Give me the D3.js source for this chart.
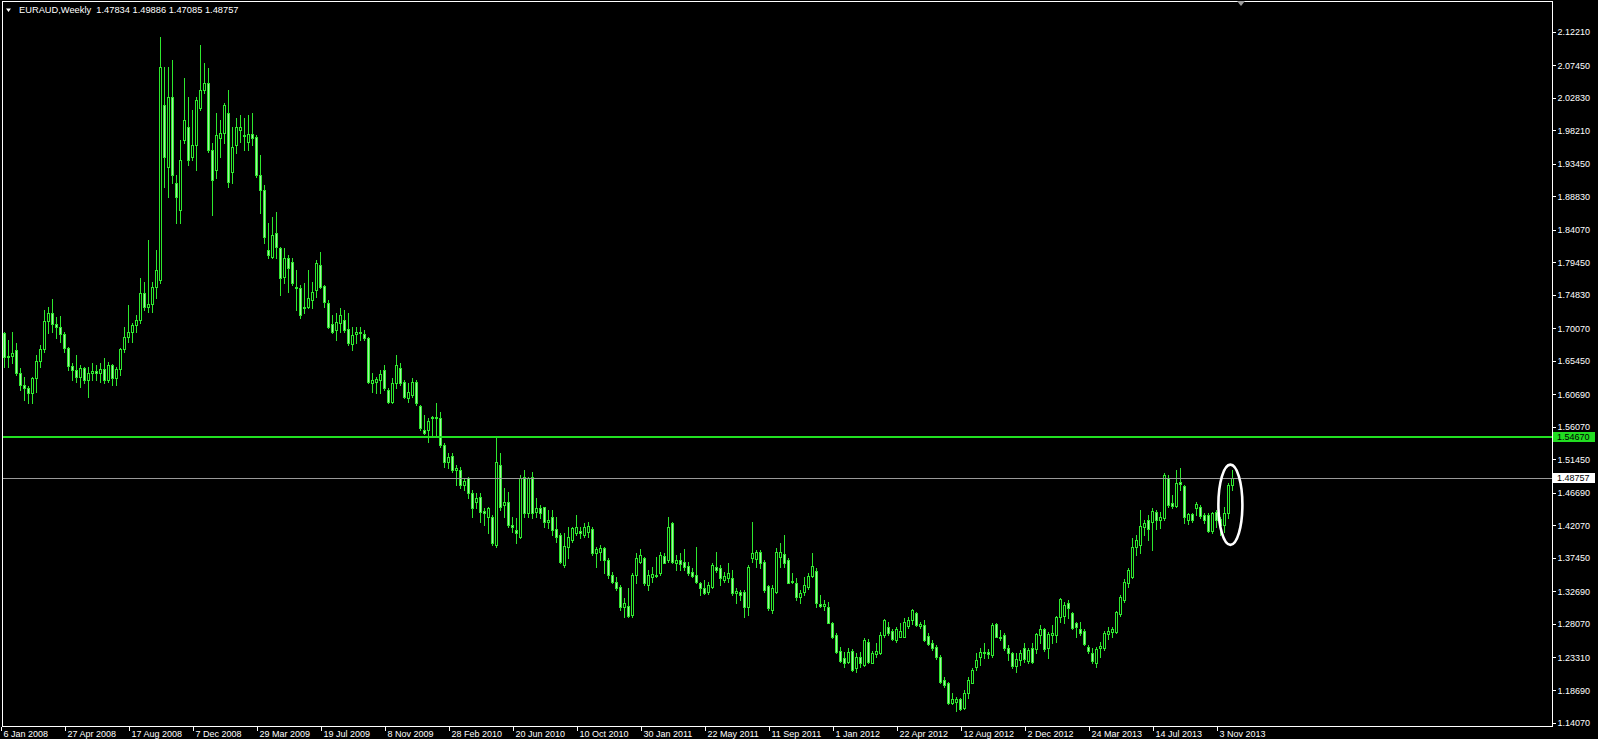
<!DOCTYPE html>
<html><head><meta charset="utf-8">
<script src="https://cdn.jsdelivr.net/npm/d3@7"></script>
<style>
html,body{margin:0;padding:0;background:#000;overflow:hidden}
svg{display:block}
</style></head><body>
<svg id="c" width="1598" height="739"></svg>
<script>
// ---------- data ----------
const symbolTitle = "EURAUD,Weekly";
const lastBarOHLC = [1.47834, 1.49886, 1.47085, 1.48757];
const levelLine = 1.54670;   // horizontal green level
const bidLine = 1.48757;     // current price line
const yTickValues = [2.12210,2.07450,2.02830,1.98210,1.93450,1.88830,1.84070,1.79450,1.74830,1.70070,1.65450,1.60690,1.56070,1.51450,1.46690,1.42070,1.37450,1.32690,1.28070,1.23310,1.18690,1.14070];
const xTickLabels = ["6 Jan 2008","27 Apr 2008","17 Aug 2008","7 Dec 2008","29 Mar 2009","19 Jul 2009","8 Nov 2009","28 Feb 2010","20 Jun 2010","10 Oct 2010","30 Jan 2011","22 May 2011","11 Sep 2011","1 Jan 2012","22 Apr 2012","12 Aug 2012","2 Dec 2012","24 Mar 2013","14 Jul 2013","3 Nov 2013"];
const xTickWeeks = [0,16,32,48,64,80,96,112,128,144,160,176,192,208,224,240,256,272,288,304];
const firstBarWeek = 1; // first visible bar = week of 13 Jan 2008

const openP = [
1.6934,1.6603,1.6612,1.6697,1.6366,1.6200,1.6162,1.6082,1.6295,1.6541,
1.6707,1.7109,1.7218,1.7062,1.7029,1.6925,1.6721,1.6470,1.6413,1.6319,
1.6437,1.6271,1.6375,1.6404,1.6366,1.6423,1.6271,1.6484,1.6295,1.6423,
1.6707,1.6877,1.6958,1.7052,1.7123,1.7502,1.7313,1.7346,1.7597,1.7691,
2.0177,1.9301,2.0295,1.9074,1.8686,1.9680,1.9869,1.9443,1.9609,2.0130,
2.0390,2.0485,1.9538,1.9254,1.9703,1.9774,2.0058,1.9230,1.9609,1.9822,
1.9751,1.9656,1.9765,1.9723,1.9183,1.8970,1.8118,1.8023,1.8355,1.8142,
1.7739,1.8000,1.7952,1.7597,1.7573,1.7289,1.7313,1.7408,1.7550,1.7905,
1.7607,1.7360,1.7067,1.6982,1.7076,1.7124,1.6991,1.6783,1.6920,1.6949,
1.6920,1.6863,1.6224,1.6248,1.6272,1.6414,1.6130,1.5964,1.6224,1.6437,
1.6248,1.6011,1.6059,1.6248,1.5902,1.5562,1.5562,1.5727,1.5751,1.5727,
1.5349,1.5112,1.5192,1.4993,1.4993,1.4780,1.4875,1.4662,1.4544,1.4615,
1.4416,1.4331,1.4331,1.3928,1.5064,1.4496,1.4544,1.4213,1.4142,1.4047,
1.4899,1.4388,1.4899,1.4402,1.4450,1.4464,1.4260,1.4331,1.4151,1.4071,
1.3645,1.3905,1.4000,1.4095,1.4132,1.4071,1.4118,1.4151,1.3820,1.3834,
1.3882,1.3716,1.3503,1.3408,1.3337,1.3053,1.3063,1.2935,1.3503,1.3692,
1.3739,1.3361,1.3470,1.3489,1.3526,1.3773,1.3716,1.4246,1.3678,1.3716,
1.3683,1.3631,1.3550,1.3503,1.3384,1.3313,1.3266,1.3337,1.3621,1.3597,
1.3432,1.3455,1.3455,1.3252,1.3266,1.3266,1.3053,1.3739,1.3724,1.3833,
1.3691,1.3346,1.3005,1.3265,1.3753,1.3800,1.3715,1.3407,1.3383,1.3185,
1.3265,1.3327,1.3488,1.3563,1.3085,1.3062,1.3052,1.2825,1.2650,1.2427,
1.2318,1.2271,1.2427,1.2176,1.2342,1.2224,1.2555,1.2257,1.2380,1.2399,
1.2650,1.2768,1.2711,1.2579,1.2626,1.2626,1.2778,1.2863,1.2967,1.2778,
1.2792,1.2636,1.2541,1.2484,1.2342,1.2011,1.1963,1.1679,1.1703,1.1736,
1.1608,1.1821,1.1973,1.2191,1.2333,1.2389,1.2413,1.2366,1.2806,1.2626,
1.2650,1.2460,1.2390,1.2210,1.2296,1.2461,1.2286,1.2461,1.2447,1.2651,
1.2731,1.2461,1.2651,1.2651,1.2911,1.2920,1.3110,1.2958,1.2826,1.2731,
1.2712,1.2475,1.2390,1.2248,1.2461,1.2461,1.2665,1.2698,1.2698,1.2949,
1.3148,1.3394,1.3479,1.3905,1.3929,1.4180,1.4284,1.4260,1.4402,1.4284,
1.4308,1.4875,1.4521,1.4483,1.4828,1.4766,1.4284,1.4369,1.4450,1.4473,
1.4355,1.4355,1.4132,1.4402,1.4293,1.4213,1.4379,1.47834];

const highP = [
1.6958,1.6839,1.6958,1.6792,1.6437,1.6319,1.6186,1.6319,1.6626,1.6768,
1.7265,1.7313,1.7417,1.7171,1.7180,1.6958,1.6740,1.6508,1.6626,1.6484,
1.6461,1.6461,1.6508,1.6484,1.6508,1.6579,1.6532,1.6500,1.6461,1.6721,
1.7029,1.7336,1.7076,1.7194,1.7715,1.7668,1.8260,1.7668,1.8118,2.1147,
2.0721,2.0721,2.0816,1.9183,1.9680,2.0556,2.0295,2.0106,2.0295,2.1029,
2.0769,2.0698,1.9632,2.0058,1.9964,2.0201,2.0390,1.9869,1.9987,2.0035,
1.9987,2.0035,2.0064,1.9751,1.9467,1.9041,1.8497,1.8591,1.8662,1.8165,
1.8142,1.8047,1.8000,1.7834,1.7621,1.7644,1.7834,1.7668,1.7976,1.8094,
1.7621,1.7408,1.7195,1.7218,1.7289,1.7266,1.7218,1.7029,1.7029,1.7029,
1.6982,1.6887,1.6366,1.6319,1.6414,1.6485,1.6153,1.6295,1.6627,1.6508,
1.6272,1.6224,1.6295,1.6272,1.5917,1.5775,1.5727,1.5760,1.5940,1.5822,
1.5372,1.5230,1.5230,1.5064,1.5041,1.4875,1.4899,1.4709,1.4662,1.4662,
1.4449,1.4473,1.4354,1.5458,1.5230,1.4733,1.4686,1.4331,1.4308,1.4923,
1.4994,1.4899,1.4970,1.4592,1.4497,1.4473,1.4426,1.4426,1.4331,1.4095,
1.4095,1.4189,1.4189,1.4355,1.4189,1.4237,1.4260,1.4189,1.3905,1.3929,
1.3905,1.3739,1.3550,1.3479,1.3361,1.3171,1.3313,1.3526,1.3810,1.3867,
1.3763,1.3574,1.3621,1.3763,1.3834,1.3810,1.4331,1.4260,1.3787,1.3810,
1.3867,1.3692,1.3597,1.3905,1.3408,1.3432,1.3408,1.3668,1.3834,1.3645,
1.3550,1.3668,1.3574,1.3313,1.3290,1.3290,1.3645,1.4260,1.3857,1.3857,
1.3715,1.3360,1.3360,1.3881,1.3961,1.4070,1.3739,1.3526,1.3455,1.3289,
1.3478,1.3526,1.3810,1.3597,1.3218,1.3147,1.3123,1.2839,1.2673,1.2484,
1.2413,1.2460,1.2446,1.2389,1.2413,1.2602,1.2588,1.2427,1.2531,1.2697,
1.2872,1.2839,1.2730,1.2768,1.2815,1.2886,1.2910,1.3014,1.2981,1.2839,
1.2863,1.2673,1.2579,1.2508,1.2366,1.2049,1.1987,1.1831,1.1774,1.1750,
1.1869,1.2058,1.2176,1.2389,1.2460,1.2531,1.2446,1.2815,1.2815,1.2721,
1.2673,1.2509,1.2414,1.2390,1.2438,1.2532,1.2461,1.2532,1.2684,1.2793,
1.2745,1.2698,1.2793,1.2920,1.3171,1.3124,1.3148,1.2982,1.2840,1.2840,
1.2731,1.2509,1.2461,1.2485,1.2556,1.2712,1.2769,1.2760,1.2996,1.3218,
1.3441,1.3597,1.4023,1.4071,1.4425,1.4284,1.4355,1.4450,1.4426,1.4402,
1.4947,1.4923,1.4639,1.4994,1.5018,1.4781,1.4388,1.4388,1.4544,1.4497,
1.4388,1.4379,1.4402,1.4426,1.4331,1.4473,1.4804,1.49886];

const lowP = [
1.6461,1.6461,1.6508,1.6342,1.6129,1.5987,1.5940,1.5940,1.6106,1.6461,
1.6674,1.6934,1.6958,1.6863,1.6816,1.6674,1.6413,1.6271,1.6248,1.6177,
1.6224,1.6035,1.6271,1.6271,1.6248,1.6224,1.6248,1.6200,1.6200,1.6342,
1.6674,1.6816,1.6816,1.6958,1.7076,1.7265,1.7242,1.7242,1.7431,1.7644,
1.9017,1.8875,1.9064,1.8496,1.8496,1.9632,1.9325,1.9396,1.9254,2.0106,
2.0343,1.9514,1.8615,1.9135,1.9443,1.9632,1.9017,1.9064,1.9490,1.9656,
1.9538,1.9538,1.9609,1.9155,1.8643,1.8218,1.8000,1.8000,1.8000,1.7479,
1.7644,1.7526,1.7621,1.7266,1.7147,1.7218,1.7289,1.7289,1.7455,1.7573,
1.7313,1.7005,1.6934,1.6840,1.6958,1.6958,1.6769,1.6698,1.6792,1.6840,
1.6840,1.6224,1.6106,1.6082,1.6082,1.6130,1.5940,1.5940,1.6153,1.6201,
1.6011,1.5964,1.6035,1.5917,1.5562,1.5500,1.5396,1.5491,1.5467,1.5325,
1.5041,1.5017,1.4970,1.4780,1.4733,1.4709,1.4591,1.4331,1.4449,1.4260,
1.4212,1.4094,1.3928,1.3905,1.4425,1.4331,1.4189,1.4118,1.3953,1.4024,
1.4331,1.4331,1.4308,1.4331,1.4308,1.4189,1.4166,1.4071,1.3976,1.3668,
1.3621,1.3739,1.3976,1.4071,1.4024,1.4047,1.4047,1.3787,1.3621,1.3716,
1.3526,1.3455,1.3384,1.3290,1.3006,1.2911,1.2911,1.2911,1.3384,1.3668,
1.3361,1.3290,1.3408,1.3479,1.3503,1.3668,1.3692,1.3668,1.3574,1.3574,
1.3574,1.3503,1.3479,1.3384,1.3219,1.3233,1.3233,1.3313,1.3550,1.3361,
1.3408,1.3408,1.3219,1.3100,1.3148,1.2911,1.2935,1.3692,1.3620,1.3597,
1.3265,1.3005,1.2957,1.3241,1.3620,1.3620,1.3383,1.3383,1.3147,1.3099,
1.3218,1.3298,1.3469,1.3043,1.3043,1.3005,1.2815,1.2602,1.2389,1.2271,
1.2200,1.2247,1.2143,1.2129,1.2200,1.2209,1.2247,1.2247,1.2342,1.2380,
1.2626,1.2650,1.2579,1.2555,1.2617,1.2617,1.2744,1.2806,1.2778,1.2744,
1.2569,1.2508,1.2437,1.2304,1.1973,1.1916,1.1670,1.1670,1.1575,1.1585,
1.1594,1.1750,1.1963,1.2153,1.2224,1.2318,1.2318,1.2342,1.2617,1.2579,
1.2437,1.2296,1.2177,1.2130,1.2225,1.2272,1.2248,1.2258,1.2390,1.2532,
1.2428,1.2319,1.2542,1.2556,1.2840,1.2826,1.2887,1.2731,1.2627,1.2651,
1.2509,1.2390,1.2258,1.2201,1.2343,1.2438,1.2589,1.2627,1.2674,1.2920,
1.3124,1.3337,1.3455,1.3787,1.3810,1.4071,1.4000,1.3858,1.4151,1.4165,
1.4284,1.4473,1.4450,1.4473,1.4710,1.4236,1.4227,1.4260,1.4355,1.4308,
1.4236,1.4118,1.4104,1.4180,1.4071,1.4118,1.4308,1.47085];

const closeP = [
1.6603,1.6612,1.6660,1.6366,1.6200,1.6162,1.6082,1.6295,1.6541,1.6707,
1.7109,1.7218,1.7062,1.7029,1.6925,1.6721,1.6470,1.6413,1.6319,1.6437,
1.6271,1.6375,1.6404,1.6366,1.6423,1.6271,1.6484,1.6295,1.6423,1.6707,
1.6877,1.6958,1.7052,1.7123,1.7502,1.7313,1.7346,1.7597,1.7834,2.0721,
1.9443,2.0295,1.9183,1.8875,1.9396,1.9964,1.9396,1.9609,2.0248,2.0390,
2.0485,1.9538,1.9112,1.9751,1.9774,2.0177,1.9088,1.9585,1.9869,1.9860,
1.9737,1.9765,1.9709,1.9183,1.8970,1.8303,1.8047,1.8331,1.8165,1.7716,
1.8000,1.7858,1.7644,1.7573,1.7195,1.7313,1.7431,1.7526,1.7929,1.7597,
1.7384,1.7029,1.6958,1.7100,1.7195,1.6982,1.6792,1.6911,1.6949,1.6934,
1.6863,1.6248,1.6272,1.6286,1.6352,1.6153,1.5964,1.6224,1.6485,1.6224,
1.6035,1.6106,1.6248,1.5940,1.5585,1.5514,1.5694,1.5751,1.5727,1.5349,
1.5112,1.5183,1.4993,1.5027,1.4780,1.4842,1.4662,1.4449,1.4601,1.4402,
1.4378,1.4449,1.3952,1.5112,1.4473,1.4544,1.4213,1.4189,1.4104,1.4876,
1.4388,1.4876,1.4379,1.4450,1.4388,1.4260,1.4284,1.4142,1.4047,1.3692,
1.3915,1.4047,1.4166,1.4189,1.4104,1.4189,1.4199,1.3810,1.3867,1.3882,
1.3716,1.3503,1.3408,1.3313,1.3053,1.3100,1.2921,1.3503,1.3739,1.3787,
1.3384,1.3503,1.3517,1.3503,1.3787,1.3678,1.4189,1.3692,1.3716,1.3659,
1.3621,1.3526,1.3489,1.3408,1.3313,1.3242,1.3361,1.3645,1.3574,1.3455,
1.3489,1.3526,1.3242,1.3280,1.3219,1.3053,1.3621,1.3810,1.3833,1.3677,
1.3289,1.3028,1.3312,1.3833,1.3833,1.3677,1.3393,1.3421,1.3194,1.3251,
1.3360,1.3488,1.3630,1.3109,1.3062,1.3090,1.2825,1.2626,1.2413,1.2285,
1.2247,1.2413,1.2153,1.2342,1.2247,1.2579,1.2271,1.2399,1.2427,1.2650,
1.2863,1.2683,1.2588,1.2730,1.2711,1.2839,1.2863,1.3005,1.2792,1.2806,
1.2579,1.2522,1.2460,1.2333,1.1987,1.1940,1.1689,1.1736,1.1736,1.1594,
1.1831,1.2011,1.2153,1.2295,1.2413,1.2413,1.2380,1.2792,1.2626,1.2602,
1.2460,1.2390,1.2210,1.2305,1.2400,1.2305,1.2438,1.2272,1.2665,1.2731,
1.2447,1.2660,1.2684,1.2902,1.3157,1.3077,1.3029,1.2745,1.2769,1.2684,
1.2523,1.2428,1.2286,1.2447,1.2494,1.2684,1.2712,1.2731,1.2982,1.3195,
1.3408,1.3574,1.3905,1.4000,1.4199,1.4236,1.4151,1.4416,1.4284,1.4321,
1.4923,1.4497,1.4483,1.4814,1.4795,1.4321,1.4369,1.4284,1.4511,1.4340,
1.4284,1.4132,1.4388,1.4284,1.4213,1.4388,1.4780,1.48757];

// annotation ellipse around the last bars (week index, price)
const markCenter = [307.6, 1.4500];
const markRadius = [3.0, 0.0570];

// ---------- layout ----------
const W = 1598, H = 739;
const plotL = 2.5, plotT = 1.5, plotR = 1552.5, plotB = 726.5;
const FONT = "'Liberation Sans', Arial, sans-serif";
const LIME = "#2ee82e";
const BEAR_FILL = "#a6f2a6";

const svg = d3.select("#c");
svg.append("rect").attr("width", W).attr("height", H).attr("fill", "#000");

const x = d3.scaleLinear().domain([0, 388]).range([0, 1552]);
const y = d3.scaleLinear().domain([2.12210, 1.14070]).range([31.5, 722.5]);

const bars = openP.map((o, i) => ({ w: i + firstBarWeek, o, h: highP[i], l: lowP[i], c: closeP[i] }));

svg.append("clipPath").attr("id", "pc").append("rect")
  .attr("x", plotL + 0.5).attr("y", plotT + 0.5).attr("width", plotR - plotL - 1).attr("height", plotB - plotT - 1);

const gBars = svg.append("g").attr("clip-path", "url(#pc)").attr("shape-rendering", "crispEdges");

// wicks
gBars.selectAll("rect.wick").data(bars).join("rect").attr("class", "wick")
  .attr("x", d => Math.round(x(d.w)))
  .attr("y", d => Math.round(y(d.h)))
  .attr("width", 1)
  .attr("height", d => Math.max(1, Math.round(y(d.l)) - Math.round(y(d.h)) + 1))
  .attr("fill", LIME);

// bodies: outer outline
const bodyTop = d => Math.round(y(Math.max(d.o, d.c)));
const bodyBot = d => Math.round(y(Math.min(d.o, d.c)));
gBars.selectAll("rect.body").data(bars).join("rect").attr("class", "body")
  .attr("x", d => Math.round(x(d.w)) - 1)
  .attr("y", bodyTop)
  .attr("width", 3)
  .attr("height", d => bodyBot(d) - bodyTop(d) + 1)
  .attr("fill", LIME);
// inner fill: black for bull, light for bear
gBars.selectAll("rect.inner").data(bars.filter(d => bodyBot(d) - bodyTop(d) >= 2)).join("rect").attr("class", "inner")
  .attr("x", d => Math.round(x(d.w)))
  .attr("y", d => bodyTop(d) + 1)
  .attr("width", 1)
  .attr("height", d => bodyBot(d) - bodyTop(d) - 1)
  .attr("fill", d => d.c >= d.o ? "#000" : BEAR_FILL);

// level lines
svg.append("line").attr("x1", plotL).attr("x2", plotR)
  .attr("y1", Math.round(y(levelLine))).attr("y2", Math.round(y(levelLine)))
  .attr("stroke", "#22e022").attr("stroke-width", 2);
svg.append("line").attr("x1", plotL).attr("x2", plotR)
  .attr("y1", Math.round(y(bidLine)) + 0.5).attr("y2", Math.round(y(bidLine)) + 0.5)
  .attr("stroke", "#9a9a9a").attr("stroke-width", 1);

// annotation ellipse
svg.append("ellipse")
  .attr("cx", x(markCenter[0])).attr("cy", y(markCenter[1]))
  .attr("rx", x(markRadius[0]) - x(0)).attr("ry", y(markCenter[1] - markRadius[1]) - y(markCenter[1]))
  .attr("fill", "none").attr("stroke", "#fff").attr("stroke-width", 2.6);

// frame
svg.append("rect").attr("x", plotL).attr("y", plotT).attr("width", plotR - plotL).attr("height", plotB - plotT)
  .attr("fill", "none").attr("stroke", "#fff").attr("stroke-width", 1).attr("shape-rendering", "crispEdges");

// right price axis
const yAxis = d3.axisRight(y).tickValues(yTickValues).tickSize(3).tickPadding(2).tickFormat(d3.format(".5f"));
const gy = svg.append("g").attr("transform", `translate(${plotR},0)`).call(yAxis);
gy.select(".domain").remove();
gy.selectAll("line").attr("stroke", "#fff").attr("shape-rendering", "crispEdges");
gy.selectAll("text").attr("fill", "#fff").attr("font-size", 9).attr("font-family", FONT).attr("dy", "0.34em");

// bottom time axis
const xAxis = d3.axisBottom(x).tickValues(xTickWeeks).tickSize(4).tickFormat((d, i) => xTickLabels[i]);
const gx = svg.append("g").attr("transform", `translate(0,${plotB})`).call(xAxis);
gx.select(".domain").remove();
gx.selectAll("line").attr("stroke", "#fff").attr("shape-rendering", "crispEdges").attr("transform", "translate(0.5,0)");
gx.selectAll("text").attr("fill", "#fff").attr("font-size", 9).attr("font-family", FONT)
  .attr("text-anchor", "start").attr("x", 3).attr("y", 10).attr("dy", 0);

// price labels on the axis
function priceTag(v, bg, fg) {
  const yy = Math.round(y(v));
  svg.append("rect").attr("x", plotR + 0.5).attr("y", yy - 5).attr("width", 42).attr("height", 10).attr("fill", bg);
  svg.append("text").attr("x", plotR + 4.5).attr("y", yy).attr("dy", "0.34em").attr("fill", fg)
    .attr("font-size", 9).attr("font-family", FONT).text(d3.format(".5f")(v));
}
priceTag(levelLine, "#22dd22", "#000");
priceTag(bidLine, "#ffffff", "#000");

// shift marker at top
svg.append("path").attr("d", d3.line()([[1237, 1], [1245, 1], [1241, 6]]) + "Z").attr("fill", "#9a9a9a");

// header
svg.append("path").attr("d", d3.line()([[6, 8.5], [11, 8.5], [8.5, 12]]) + "Z").attr("fill", "#fff");
svg.append("text").attr("x", 19).attr("y", 13.3).attr("fill", "#fff").attr("font-size", 9.3).attr("font-family", FONT)
  .style("white-space", "pre")
  .text(symbolTitle + "  " + lastBarOHLC.map(d3.format(".5f")).join(" "));
</script>
</body></html>
